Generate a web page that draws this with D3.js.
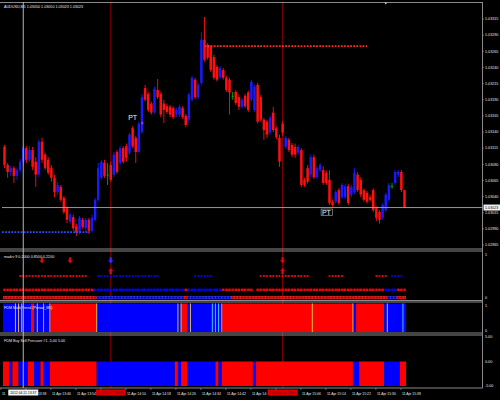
<!DOCTYPE html>
<html><head><meta charset="utf-8">
<script src="https://cdn.jsdelivr.net/npm/d3@7/dist/d3.min.js"></script>
<style>html,body{margin:0;padding:0;background:#000;overflow:hidden}svg{display:block}text{font-family:"Liberation Sans",Arial,sans-serif}</style>
</head><body><svg id="chart" width="500" height="400"></svg>
<script>
// ---------- data ----------
const chartTitle = "AUDUSD,M1 1.03050 1.03050 1.03023 1.03023";
const openP = [1.03117,1.03089,1.03078,1.03084,1.03072,1.03081,1.03094,1.03115,1.03097,1.03112,
1.03094,1.03074,1.03125,1.03105,1.03097,1.03084,1.03069,1.03047,1.03055,1.03038,
1.03022,1.03001,1.03008,1.02994,1.02985,1.03004,1.02991,1.03004,1.02987,1.03004,
1.03035,1.03069,1.03092,1.03074,1.03089,1.03074,1.03109,1.03092,1.03115,1.03118,
1.03108,1.03146,1.03131,1.03109,1.03140,1.03208,1.03199,1.03184,1.03171,1.03205,
1.03199,1.03184,1.03180,1.03179,1.03177,1.03167,1.03167,1.03177,1.03165,1.03159,
1.03190,1.03221,1.03194,1.03216,1.03283,1.03275,1.03272,1.03256,1.03241,1.03225,
1.03236,1.03224,1.03221,1.03196,1.03202,1.03194,1.03179,1.03196,1.03201,1.03190,
1.03174,1.03213,1.03194,1.03159,1.03156,1.03139,1.03170,1.03146,1.03131,1.03153,
1.03117,1.03128,1.03120,1.03117,1.03108,1.03112,1.03066,1.03084,1.03074,1.03101,
1.03070,1.03081,1.03081,1.03077,1.03066,1.03032,1.03032,1.03050,1.03039,1.03039,
1.03056,1.03043,1.03047,1.03074,1.03066,1.03050,1.03046,1.03039,1.03050,1.03022,
1.03016,1.03007,1.03019,1.03035,1.03056,1.03061,1.03074,1.03078,1.03050];
const highP = [1.03120,1.03092,1.03087,1.03087,1.03084,1.03098,1.03120,1.03118,1.03118,1.03117,
1.03101,1.03128,1.03131,1.03108,1.03101,1.03089,1.03074,1.03063,1.03058,1.03041,
1.03025,1.03015,1.03012,1.02998,1.03010,1.03007,1.03007,1.03007,1.03012,1.03038,
1.03092,1.03097,1.03097,1.03092,1.03094,1.03109,1.03112,1.03118,1.03118,1.03122,
1.03139,1.03149,1.03134,1.03156,1.03199,1.03213,1.03202,1.03187,1.03210,1.03222,
1.03202,1.03190,1.03184,1.03182,1.03180,1.03177,1.03182,1.03180,1.03168,1.03201,
1.03227,1.03224,1.03216,1.03295,1.03318,1.03278,1.03275,1.03260,1.03244,1.03242,
1.03239,1.03227,1.03224,1.03202,1.03205,1.03198,1.03193,1.03199,1.03204,1.03221,
1.03213,1.03216,1.03198,1.03162,1.03159,1.03165,1.03179,1.03149,1.03136,1.03157,
1.03134,1.03131,1.03123,1.03122,1.03120,1.03115,1.03069,1.03089,1.03105,1.03105,
1.03087,1.03092,1.03087,1.03080,1.03081,1.03035,1.03050,1.03053,1.03061,1.03060,
1.03060,1.03058,1.03084,1.03078,1.03070,1.03053,1.03049,1.03043,1.03053,1.03025,
1.03019,1.03030,1.03046,1.03061,1.03061,1.03081,1.03081,1.03081,1.03050];
const lowP = [1.03084,1.03069,1.03072,1.03061,1.03066,1.03077,1.03089,1.03092,1.03094,1.03081,
1.03055,1.03070,1.03092,1.03081,1.03074,1.03063,1.03039,1.03043,1.03032,1.03013,
1.02999,1.02998,1.02987,1.02979,1.02982,1.02990,1.02985,1.02982,1.02984,1.03001,
1.03032,1.03066,1.03069,1.03058,1.03063,1.03070,1.03075,1.03089,1.03091,1.03094,
1.03105,1.03115,1.03092,1.03108,1.03137,1.03187,1.03171,1.03167,1.03168,1.03191,
1.03163,1.03154,1.03168,1.03163,1.03160,1.03163,1.03163,1.03160,1.03148,1.03154,
1.03187,1.03191,1.03191,1.03213,1.03249,1.03252,1.03233,1.03221,1.03218,1.03222,
1.03221,1.03202,1.03167,1.03190,1.03182,1.03174,1.03176,1.03177,1.03171,1.03187,
1.03171,1.03153,1.03156,1.03128,1.03131,1.03136,1.03140,1.03129,1.03086,1.03134,
1.03114,1.03109,1.03101,1.03100,1.03105,1.03055,1.03055,1.03060,1.03070,1.03067,
1.03067,1.03078,1.03058,1.03058,1.03027,1.03024,1.03029,1.03027,1.03036,1.03036,
1.03027,1.03039,1.03044,1.03047,1.03039,1.03032,1.03029,1.03032,1.03016,1.03002,
1.02998,1.03004,1.03016,1.03032,1.03052,1.03058,1.03070,1.03047,1.03023];
const closeP = [1.03089,1.03078,1.03084,1.03072,1.03081,1.03094,1.03115,1.03097,1.03112,1.03086,
1.03074,1.03125,1.03097,1.03084,1.03077,1.03069,1.03047,1.03058,1.03035,1.03016,
1.03004,1.03012,1.02991,1.02984,1.03007,1.02993,1.03004,1.02987,1.03007,1.03035,
1.03084,1.03094,1.03072,1.03074,1.03066,1.03105,1.03078,1.03115,1.03094,1.03100,
1.03136,1.03118,1.03109,1.03153,1.03194,1.03190,1.03174,1.03170,1.03207,1.03194,
1.03167,1.03174,1.03171,1.03167,1.03163,1.03174,1.03179,1.03163,1.03151,1.03198,
1.03224,1.03194,1.03213,1.03283,1.03252,1.03255,1.03236,1.03224,1.03221,1.03239,
1.03224,1.03205,1.03201,1.03196,1.03185,1.03179,1.03190,1.03180,1.03174,1.03218,
1.03210,1.03156,1.03159,1.03143,1.03136,1.03162,1.03143,1.03132,1.03094,1.03139,
1.03131,1.03112,1.03105,1.03105,1.03117,1.03058,1.03058,1.03063,1.03101,1.03070,
1.03084,1.03089,1.03061,1.03061,1.03030,1.03027,1.03047,1.03030,1.03058,1.03056,
1.03030,1.03055,1.03077,1.03050,1.03043,1.03035,1.03032,1.03035,1.03019,1.03007,
1.03004,1.03027,1.03043,1.03058,1.03056,1.03078,1.03078,1.03050,1.03023];
const priceTicks = ["1.03315","1.03290","1.03265","1.03240","1.03215","1.03190","1.03165","1.03140",
  "1.03115","1.03090","1.03065","1.03040","1.03015","1.02990","1.02965"];
const lastPrice = 1.03023;
// time axis: label text as visible (parts hidden behind the date boxes are left out)
const xTickBars = [-1,7,15,23,31,39,47,55,63,71,79,87,95,103,111,119,127];
const xTickLabels = ["11","13:38","11 Apr 13:46","11 Apr 13:54","","11 Apr 14:10",
  "11 Apr 14:18","11 Apr 14:26","11 Apr 14:34","11 Apr 14:42","11 Apr 14:","","11 Apr 15:06",
  "11 Apr 15:14","11 Apr 15:22","11 Apr 15:30","11 Apr 15:38"];
const eventBars = [34, 89];
const eventLabels = ["2012.04.11 14:05", "2012.04.11 15:00"];
const cursorBar = 6;
const cursorLabel = "2012.04.11 13:37";
const supportLevel = 1.02985, supportBars = [0, 27];
const resistLevel = 1.03273, resistBars = [64, 116];
const ptBars = [41, 103];
const ptPrices = [1.03163, 1.03016];
const ptBoxed = [false, true];
const shiftBar = 122;

// sub window 1: signal dots
const sub1Title = "madrv 9 0.2000 0.8500 0.2200";
const sub1Ticks = ["1", "0"];
const rowAStart = [5, 30, 61, 82, 104, 119, 124];
const rowAEnd   = [26, 49, 66, 97, 108, 122, 127];
const rowASig   = ["S","B","B","S","S","S","B"];
const rowBStart = [0, 29, 58, 59, 70, 81, 122, 126];
const rowBEnd   = [28, 57, 58, 69, 79, 121, 125, 128];
const rowBSig   = ["S","B","S","B","S","S","B","S"];
const rowCStart = [0, 30, 58, 59, 73, 123, 126];
const rowCEnd   = [29, 57, 58, 72, 122, 125, 128];
const rowCSig   = ["S","B","S","B","S","B","S"];
const arrowBars  = [12, 21, 34, 34, 89, 89];
const arrowLevel = [1, 1, 1, 0, 1, 0];
const arrowSig   = ["S","S","B","S","S","S"];

// sub window 2: multi trend
const sub2Title = "FDM Multi Trend (Period_M5)";
const sub2Ticks = ["1", "0"];
const trendStart = [0, 9, 10, 15, 30, 57, 59, 70, 112, 113, 122];
const trendEnd   = [8, 9, 14, 29, 56, 58, 69, 111, 112, 121, 128];
const trendSig   = ["B","S","B","S","B","S","B","S","B","S","B"];
const trendYellowBars = [4, 5, 6, 11, 30, 56, 57, 60, 99, 112, 123];
const trendCyanBars   = [13, 15, 67, 68, 69, 70, 128];

// sub window 3: buy/sell pressure
const sub3Title = "FDM Buy Sell Pressure #1 -5.00 5.00";
const sub3Ticks = [5, 0, -5];
const pressStart = [0,2,3,5,8,10,12,13,15,30,55,56,57,59,68,69,70,80,81,112,114,122,127];
const pressEnd   = [1,2,4,7,9,11,12,14,29,54,55,56,58,67,68,69,79,80,111,113,121,126,128];
const pressSig   = ["S","B","S","B","S","B","S","B","S","B","S","B","S","B","S","B","S","B","S","B","S","B","S"];
const pressValue = [-5,-5,-5,-5,-5,-5,-5,-5,-5,-5,-5,-5,-5,-5,-5,-5,-5,-5,-5,-5,-5,-5,-5];

// ---------- drawing ----------
const svg = d3.select("#chart");
const RED = "#ff0000", BLUE = "#0000ff", GRID = "#9a9a9a", TXT = "#e8e8e8";
const step = 3.125;
const x = d3.scaleLinear().domain([0, 128]).range([4.5, 404.5]);
const y = d3.scaleLinear().domain([1.02965, 1.03315]).range([245, 19]);
const ys1 = d3.scaleLinear().domain([0, 1]).range([299, 253]);
const ys2 = d3.scaleLinear().domain([0, 1]).range([332, 303.5]);
const ys3 = d3.scaleLinear().domain([-5, 5]).range([386, 337]);
const sigColor = s => s === "B" ? BLUE : RED;
const AX = 482.5;

svg.append("rect").attr("width", 500).attr("height", 400).attr("fill", "#000");

// event lines (behind)
svg.selectAll(".ev").data(eventBars).join("line")
  .attr("x1", d => x(d)).attr("x2", d => x(d)).attr("y1", 2).attr("y2", 388)
  .attr("stroke", "#8a0000").attr("stroke-width", 1);

// candles
const bars = d3.range(openP.length);
const g = svg.append("g");
const candleColor = i => closeP[i] > openP[i] ? "#1a1aff" : (closeP[i] < openP[i] ? "#ff1010" : "#00b000");
g.selectAll(".wick").data(bars).join("line")
  .attr("x1", i => x(i)).attr("x2", i => x(i))
  .attr("y1", i => y(highP[i])).attr("y2", i => y(lowP[i]))
  .attr("stroke", candleColor).attr("stroke-width", 0.9);
g.selectAll(".body").data(bars).join("rect")
  .attr("x", i => x(i) - 1.25).attr("width", 2.5)
  .attr("y", i => Math.min(y(openP[i]), y(closeP[i])))
  .attr("height", i => Math.max(0.8, Math.abs(y(openP[i]) - y(closeP[i]))))
  .attr("fill", candleColor);

// support / resistance
svg.append("line").attr("x1", x(supportBars[0]) - 2.5).attr("x2", x(supportBars[1]) + 1)
  .attr("y1", y(supportLevel)).attr("y2", y(supportLevel))
  .attr("stroke", "#2a4bff").attr("stroke-width", 1.6).attr("stroke-dasharray", "1.8 1.3");
svg.append("line").attr("x1", x(resistBars[0])).attr("x2", x(resistBars[1]))
  .attr("y1", y(resistLevel)).attr("y2", y(resistLevel))
  .attr("stroke", "#ff2a2a").attr("stroke-width", 1.6).attr("stroke-dasharray", "1.8 1.3");
svg.append("text").attr("x", x(resistBars[0]) + 4).attr("y", y(resistLevel) + 1.5)
  .attr("fill", "#ff4040").attr("font-size", 5).attr("text-anchor", "middle").text("+");

// PT labels
ptBars.forEach((b, k) => {
  const t = svg.append("text").attr("x", x(b)).attr("y", y(ptPrices[k]))
    .attr("fill", "#f0f0f0").attr("font-size", 7).attr("text-anchor", "middle").attr("dy", "0.35em").text("PT");
  if (ptBoxed[k]) {
    const bb = t.node().getBBox();
    svg.append("rect").attr("x", bb.x - 0.8).attr("y", bb.y + 0.5).attr("width", bb.width + 1.6).attr("height", bb.height - 0.5)
      .attr("fill", "none").attr("stroke", "#b0b0b0").attr("stroke-width", 0.6);
  }
});
svg.append("text").attr("x", x(44)).attr("y", y(1.03154)).attr("fill", "#ff6080").attr("font-size", 5)
  .attr("text-anchor", "middle").attr("dy", "0.35em").text("×");

// current price line
svg.append("line").attr("x1", 2).attr("x2", AX).attr("y1", y(lastPrice)).attr("y2", y(lastPrice))
  .attr("stroke", "#a8a8a8").attr("stroke-width", 0.9);

// window frames
const hLines = [2.5, 249, 251, 300.5, 302, 333, 335, 388];
svg.selectAll(".hl").data(hLines).join("line")
  .attr("x1", 0).attr("x2", AX).attr("y1", d => d).attr("y2", d => d)
  .attr("stroke", GRID).attr("stroke-width", 0.9);
svg.append("line").attr("x1", AX).attr("x2", AX).attr("y1", 2).attr("y2", 388).attr("stroke", GRID).attr("stroke-width", 0.9);

// sub1 rows
function dotRow(starts, ends, sigs, yy, size, style) {
  starts.forEach((s, k) => {
    const idx = d3.range(s, ends[k] + 1);
    svg.selectAll(null).data(idx).join("rect")
      .attr("x", i => x(i) - size / 2).attr("y", yy - size / 2).attr("width", size).attr("height", size)
      .attr("fill", style === "dark" ? (sigs[k] === "B" ? "#0000b8" : "#b00000") : sigColor(sigs[k]))
      .attr("stroke", style === "dark" ? (sigs[k] === "B" ? "#4040ff" : "#ff3030") : "none")
      .attr("stroke-width", 0.5);
  });
}
dotRow(rowAStart, rowAEnd, rowASig, ys1(0.5), 1.8, "plain");
dotRow(rowBStart, rowBEnd, rowBSig, ys1(0.2), 2.4, "plain");
dotRow(rowCStart, rowCEnd, rowCSig, ys1(0.03), 2.6, "dark");

// sub1 arrows
arrowBars.forEach((b, k) => {
  const cx = x(b), cy = arrowLevel[k] ? 260.5 : 271;
  const c = arrowSig[k] === "B" ? "#3030ff" : "#d01010";
  const down = arrowLevel[k] === 1;
  const p = down
    ? `M${cx - 1},${cy - 3}L${cx + 1},${cy - 3}L${cx + 1},${cy}L${cx + 2.2},${cy}L${cx},${cy + 2.8}L${cx - 2.2},${cy}L${cx - 1},${cy}Z`
    : `M${cx - 1},${cy + 3}L${cx + 1},${cy + 3}L${cx + 1},${cy}L${cx + 2.2},${cy}L${cx},${cy - 2.8}L${cx - 2.2},${cy}L${cx - 1},${cy}Z`;
  svg.append("path").attr("d", p).attr("fill", c).attr("stroke", c).attr("stroke-width", 0.4);
});

// sub2 trend bands
trendStart.forEach((s, k) => {
  svg.append("rect").attr("x", x(s) - step / 2).attr("width", (trendEnd[k] - s + 1) * step)
    .attr("y", ys2(1)).attr("height", ys2(0) - ys2(1)).attr("fill", sigColor(trendSig[k]));
});
svg.selectAll(".ty").data(trendYellowBars).join("line")
  .attr("x1", i => x(i) - step / 2).attr("x2", i => x(i) - step / 2).attr("y1", ys2(1)).attr("y2", ys2(0))
  .attr("stroke", "#f0d040").attr("stroke-width", 0.9);
svg.selectAll(".tc").data(trendCyanBars).join("line")
  .attr("x1", i => x(i) - step / 2).attr("x2", i => x(i) - step / 2).attr("y1", ys2(1)).attr("y2", ys2(0))
  .attr("stroke", "#40e0e0").attr("stroke-width", 0.9);

// sub3 pressure
pressStart.forEach((s, k) => {
  svg.append("rect").attr("x", x(s) - step / 2).attr("width", (pressEnd[k] - s + 1) * step)
    .attr("y", ys3(0)).attr("height", ys3(pressValue[k]) - ys3(0)).attr("fill", sigColor(pressSig[k]));
});

// cursor line
svg.append("line").attr("x1", x(cursorBar)).attr("x2", x(cursorBar)).attr("y1", 2).attr("y2", 388)
  .attr("stroke", "#c8c8c8").attr("stroke-width", 0.9);

// shift marker
svg.append("path").attr("d", `M${x(shiftBar) - 1.6},2.6L${x(shiftBar) + 1.6},2.6L${x(shiftBar)},4.6Z`).attr("fill", "#c0c0c0");

// titles
const fs = 3.7;
svg.append("text").attr("x", 4).attr("y", 8).attr("fill", TXT).attr("font-size", fs).text(chartTitle);
svg.append("text").attr("x", 4).attr("y", 257.5).attr("fill", TXT).attr("font-size", fs).text(sub1Title);
svg.append("text").attr("x", 4).attr("y", 309).attr("fill", TXT).attr("font-size", fs).text(sub2Title);
svg.append("text").attr("x", 4).attr("y", 341.5).attr("fill", TXT).attr("font-size", fs).text(sub3Title);

// price axis
svg.selectAll(".pt").data(priceTicks).join("text")
  .attr("x", AX + 2.5).attr("y", d => y(+d)).attr("dy", "0.35em")
  .attr("fill", TXT).attr("font-size", fs).text(d => d);
svg.selectAll(".ptk").data(priceTicks).join("line")
  .attr("x1", AX).attr("x2", AX + 1.5).attr("y1", d => y(+d)).attr("y2", d => y(+d)).attr("stroke", GRID).attr("stroke-width", 0.6);
svg.append("rect").attr("x", AX + 1).attr("y", y(lastPrice) - 3).attr("width", 17).attr("height", 6).attr("fill", "#f0f0f0");
svg.append("text").attr("x", AX + 2.5).attr("y", y(lastPrice)).attr("dy", "0.35em").attr("fill", "#000")
  .attr("font-size", fs).text(lastPrice.toFixed(5));
// sub axes
[[ys1, sub1Ticks, [1, 0]], [ys2, sub2Ticks, [1, 0]]].forEach(([sc, labs, vals]) => {
  labs.forEach((l, k) => {
    svg.append("text").attr("x", AX + 2.5).attr("y", sc(vals[k]) + (k === 0 ? 2 : -1)).attr("dy", "0.35em")
      .attr("fill", TXT).attr("font-size", fs).text(l);
  });
});
sub3Ticks.forEach(v => {
  svg.append("text").attr("x", AX + 2.5).attr("y", ys3(v)).attr("dy", "0.35em")
    .attr("fill", TXT).attr("font-size", fs).text(v.toFixed(2));
});

// time axis
svg.selectAll(".xt").data(xTickBars).join("line")
  .attr("x1", i => x(i) - 0.5).attr("x2", i => x(i) - 0.5).attr("y1", 388).attr("y2", 390)
  .attr("stroke", GRID).attr("stroke-width", 0.6);
const partialShift = l => (l.startsWith("11 Apr") || l === "11") ? 0.5 : 11.5;
svg.selectAll(".xl").data(xTickBars.filter((d, k) => xTickLabels[k] !== "")).join("text")
  .attr("x", i => { const l = xTickLabels[xTickBars.indexOf(i)]; return x(i) + partialShift(l); })
  .attr("y", 394.5).attr("fill", TXT).attr("font-size", 3.4)
  .text(i => xTickLabels[xTickBars.indexOf(i)]);
function dateBox(bar, label, fill, col) {
  const cx = x(bar);
  svg.append("rect").attr("x", cx - 15).attr("y", 389.5).attr("width", 30).attr("height", 6).attr("fill", fill);
  svg.append("text").attr("x", cx).attr("y", 394.3).attr("text-anchor", "middle").attr("fill", col)
    .attr("font-size", 3.4).text(label);
}
eventBars.forEach((b, k) => dateBox(b, eventLabels[k], "#e00000", "#600000"));
dateBox(cursorBar, cursorLabel, "#f4f4f4", "#000");
</script></body></html>
